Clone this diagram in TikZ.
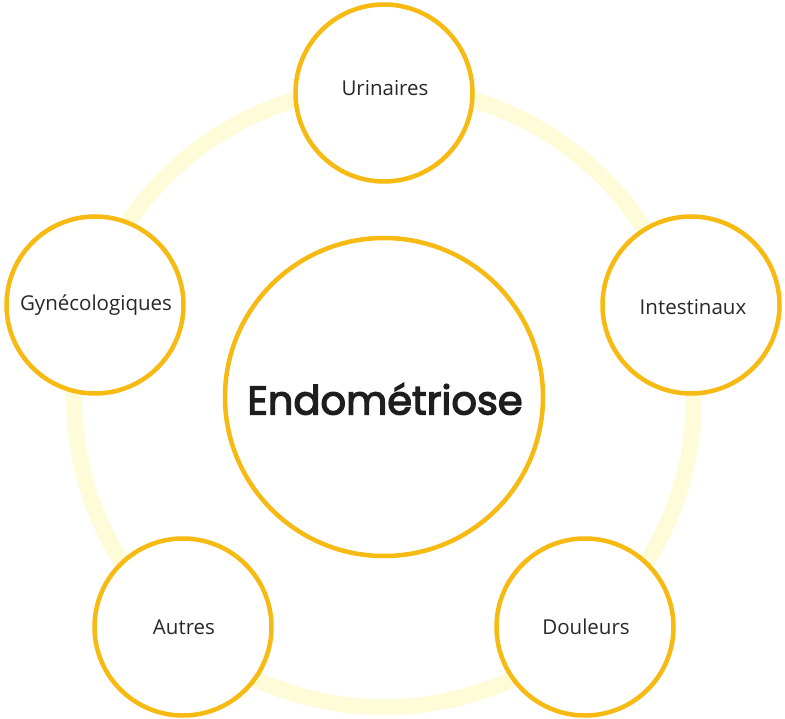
\documentclass[tikz,border=0pt]{standalone}
\usepackage{fontspec}
\setmainfont{Open Sans}
\newfontfamily\titlefont[FakeBold=3.2]{Poppins}
\definecolor{gold}{RGB}{246,186,18}
\definecolor{ringc}{RGB}{254,252,216}
\definecolor{txt}{RGB}{40,40,40}
\definecolor{titletxt}{RGB}{30,30,30}
\tikzset{
  small/.style={circle, draw=gold, line width=4.5pt, fill=white, minimum size=177pt, inner sep=0pt},
  big/.style={circle, draw=gold, line width=4.5pt, fill=white, minimum size=318pt, inner sep=0pt},
  lbl/.style={text=txt, font=\fontsize{20.5}{24}\selectfont, inner sep=0pt},
  ttl/.style={text=titletxt, font=\titlefont\fontsize{40}{44}\selectfont, inner sep=0pt}
}
\begin{document}
\begin{tikzpicture}[x=1pt,y=-1pt]
\useasboundingbox (0,0) rectangle (785,719);
\fill[white] (0,0) rectangle (785,719);
\draw[ringc, line width=16pt] (384,397) circle (310pt);
\node[big] (center) at (384,397) {};
\node[small] (uri) at (384,93) {};
\node[small] (int) at (691,305) {};
\node[small] (dou) at (585,627) {};
\node[small] (aut) at (183,627) {};
\node[small] (gyn) at (95,305) {};
\node[ttl] (ctitle) at (385,399) {Endométriose};
\node[lbl] (turi) at (385,88) {Urinaires};
\node[lbl] (tint) at (693,307) {Intestinaux};
\node[lbl] (tdou) at (586,627) {Douleurs};
\node[lbl] (taut) at (184,627) {Autres};
\node[lbl] (tgyn) at (96,305) {Gynécologiques};
\end{tikzpicture}
\end{document}
